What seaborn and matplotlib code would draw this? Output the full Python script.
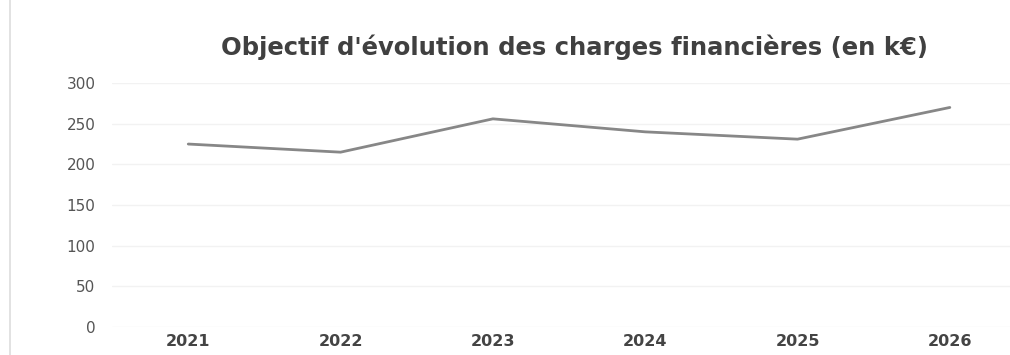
import matplotlib
matplotlib.use("Agg")
import matplotlib.pyplot as plt
import seaborn as sns
import pandas as pd
from matplotlib.lines import Line2D

years = ["2021", "2022", "2023", "2024", "2025", "2026"]
charges = [225, 215, 256, 240, 231, 270]
y_ticks = [0, 50, 100, 150, 200, 250, 300]
title = "Objectif d'évolution des charges financières (en k€)"

df = pd.DataFrame({"annee": years, "charges": charges})

sns.set_theme(style="white")
plt.rcParams["font.family"] = ["DejaVu Sans"]

fig = plt.figure(figsize=(10.1, 3.55), dpi=100)
ax = fig.add_axes([0.111, 0.079, 0.889, 0.687])

sns.lineplot(data=df, x="annee", y="charges", ax=ax, color="#878787",
             linewidth=2.0, sort=False)

ax.set_ylim(0, 300)
ax.set_xlim(-0.5, 5.395)
ax.set_yticks(y_ticks)
ax.set_yticklabels([str(v) for v in y_ticks])
ax.yaxis.grid(True, color="#f2f2f2", linewidth=1.0)
ax.set_axisbelow(True)
for s in ax.spines.values():
    s.set_visible(False)
ax.tick_params(axis="y", length=0, pad=12, labelsize=11, labelcolor="#555555")
ax.tick_params(axis="x", length=0, pad=5, labelsize=11.5, labelcolor="#444444")
for lab in ax.get_xticklabels():
    lab.set_fontweight("bold")
ax.set_xlabel("")
ax.set_ylabel("")

fig.text(0.569, 0.868, title, ha="center", va="center", fontsize=17.5,
         fontweight="bold", color="#404040")

# thin frame edge at the left of the chart area
fig.add_artist(Line2D([0.010, 0.010], [0.0, 1.0], transform=fig.transFigure,
                      color="#dddddd", linewidth=1.2))

fig.savefig("out.png", dpi=100, facecolor="white")
